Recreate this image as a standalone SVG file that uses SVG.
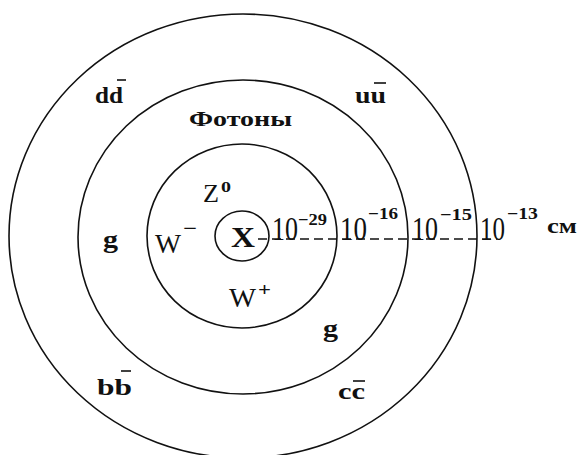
<svg xmlns="http://www.w3.org/2000/svg" width="577" height="455" viewBox="0 0 577 455">
<style>
.c{fill:none;stroke:#111;stroke-width:1.6}
.b{font-family:"Liberation Serif",serif;font-weight:bold;fill:#111}
.r{font-family:"Liberation Serif",serif;fill:#111}
.ov{stroke:#111;stroke-width:1.6}
</style>
<rect width="577" height="455" fill="#fff"/>
<g id="shells">
<ellipse id="outer" class="c" cx="243" cy="236" rx="234" ry="222"/>
<ellipse id="middle" class="c" cx="243" cy="237" rx="165" ry="157"/>
<ellipse id="inner" class="c" cx="242" cy="236" rx="95" ry="92"/>
<ellipse id="core" class="c" cx="242" cy="236" rx="27" ry="25"/>
</g>
<g id="connectors">
<line x1="258" y1="239" x2="497" y2="239" stroke="#111" stroke-width="1.4" stroke-dasharray="9,5"/>
</g>
<g id="X"><text class="b" x="231" y="247" font-size="30" textLength="24" lengthAdjust="spacingAndGlyphs">X</text></g>
<g id="Z0"><text class="r" x="203" y="202" font-size="26" textLength="16" lengthAdjust="spacingAndGlyphs">Z</text><text class="b" x="221" y="192" font-size="15" textLength="10" lengthAdjust="spacingAndGlyphs">0</text></g>
<g id="Wm"><text class="r" x="155" y="253" font-size="27" textLength="26" lengthAdjust="spacingAndGlyphs">W</text><text class="b" x="183" y="234" font-size="18" textLength="14" lengthAdjust="spacingAndGlyphs">−</text></g>
<g id="Wp"><text class="r" x="229" y="307" font-size="27" textLength="27" lengthAdjust="spacingAndGlyphs">W</text><text class="b" x="258" y="296" font-size="18" textLength="13" lengthAdjust="spacingAndGlyphs">+</text></g>
<g id="photons"><text class="b" x="189" y="126" font-size="21" textLength="103" lengthAdjust="spacingAndGlyphs">Фотоны</text></g>
<g id="dd"><text class="b" x="95" y="103" font-size="23" textLength="28" lengthAdjust="spacingAndGlyphs">dd</text><line class="ov" x1="117" y1="80" x2="126" y2="80"/></g>
<g id="uu"><text class="b" x="355" y="103" font-size="23" textLength="31" lengthAdjust="spacingAndGlyphs">uu</text><line class="ov" x1="374" y1="83" x2="386" y2="83"/></g>
<g id="bb"><text class="b" x="97" y="395" font-size="23" textLength="35" lengthAdjust="spacingAndGlyphs">bb</text><line class="ov" x1="121" y1="371" x2="131" y2="371"/></g>
<g id="cc"><text class="b" x="338" y="399" font-size="23" textLength="27" lengthAdjust="spacingAndGlyphs">cc</text><line class="ov" x1="353" y1="381" x2="365" y2="381"/></g>
<g id="g1"><text class="b" x="103" y="248" font-size="26" textLength="15" lengthAdjust="spacingAndGlyphs">g</text></g>
<g id="g2"><text class="b" x="323" y="337" font-size="26" textLength="15" lengthAdjust="spacingAndGlyphs">g</text></g>
<g id="s29"><text class="r" x="272" y="240" font-size="33" textLength="26" lengthAdjust="spacingAndGlyphs">10</text><text class="b" x="298" y="225" font-size="16" textLength="29" lengthAdjust="spacingAndGlyphs">−29</text></g>
<g id="s16"><text class="r" x="340" y="240" font-size="33" textLength="27" lengthAdjust="spacingAndGlyphs">10</text><text class="b" x="368" y="219" font-size="16" textLength="30" lengthAdjust="spacingAndGlyphs">−16</text></g>
<g id="s15"><text class="r" x="412" y="240" font-size="33" textLength="26" lengthAdjust="spacingAndGlyphs">10</text><text class="b" x="440" y="220" font-size="16" textLength="32" lengthAdjust="spacingAndGlyphs">−15</text></g>
<g id="s13"><text class="r" x="480" y="240" font-size="33" textLength="25" lengthAdjust="spacingAndGlyphs">10</text><text class="b" x="507" y="219" font-size="16" textLength="31" lengthAdjust="spacingAndGlyphs">−13</text><text class="b" x="547" y="233" font-size="21" textLength="30" lengthAdjust="spacingAndGlyphs">см</text></g>
</svg>
